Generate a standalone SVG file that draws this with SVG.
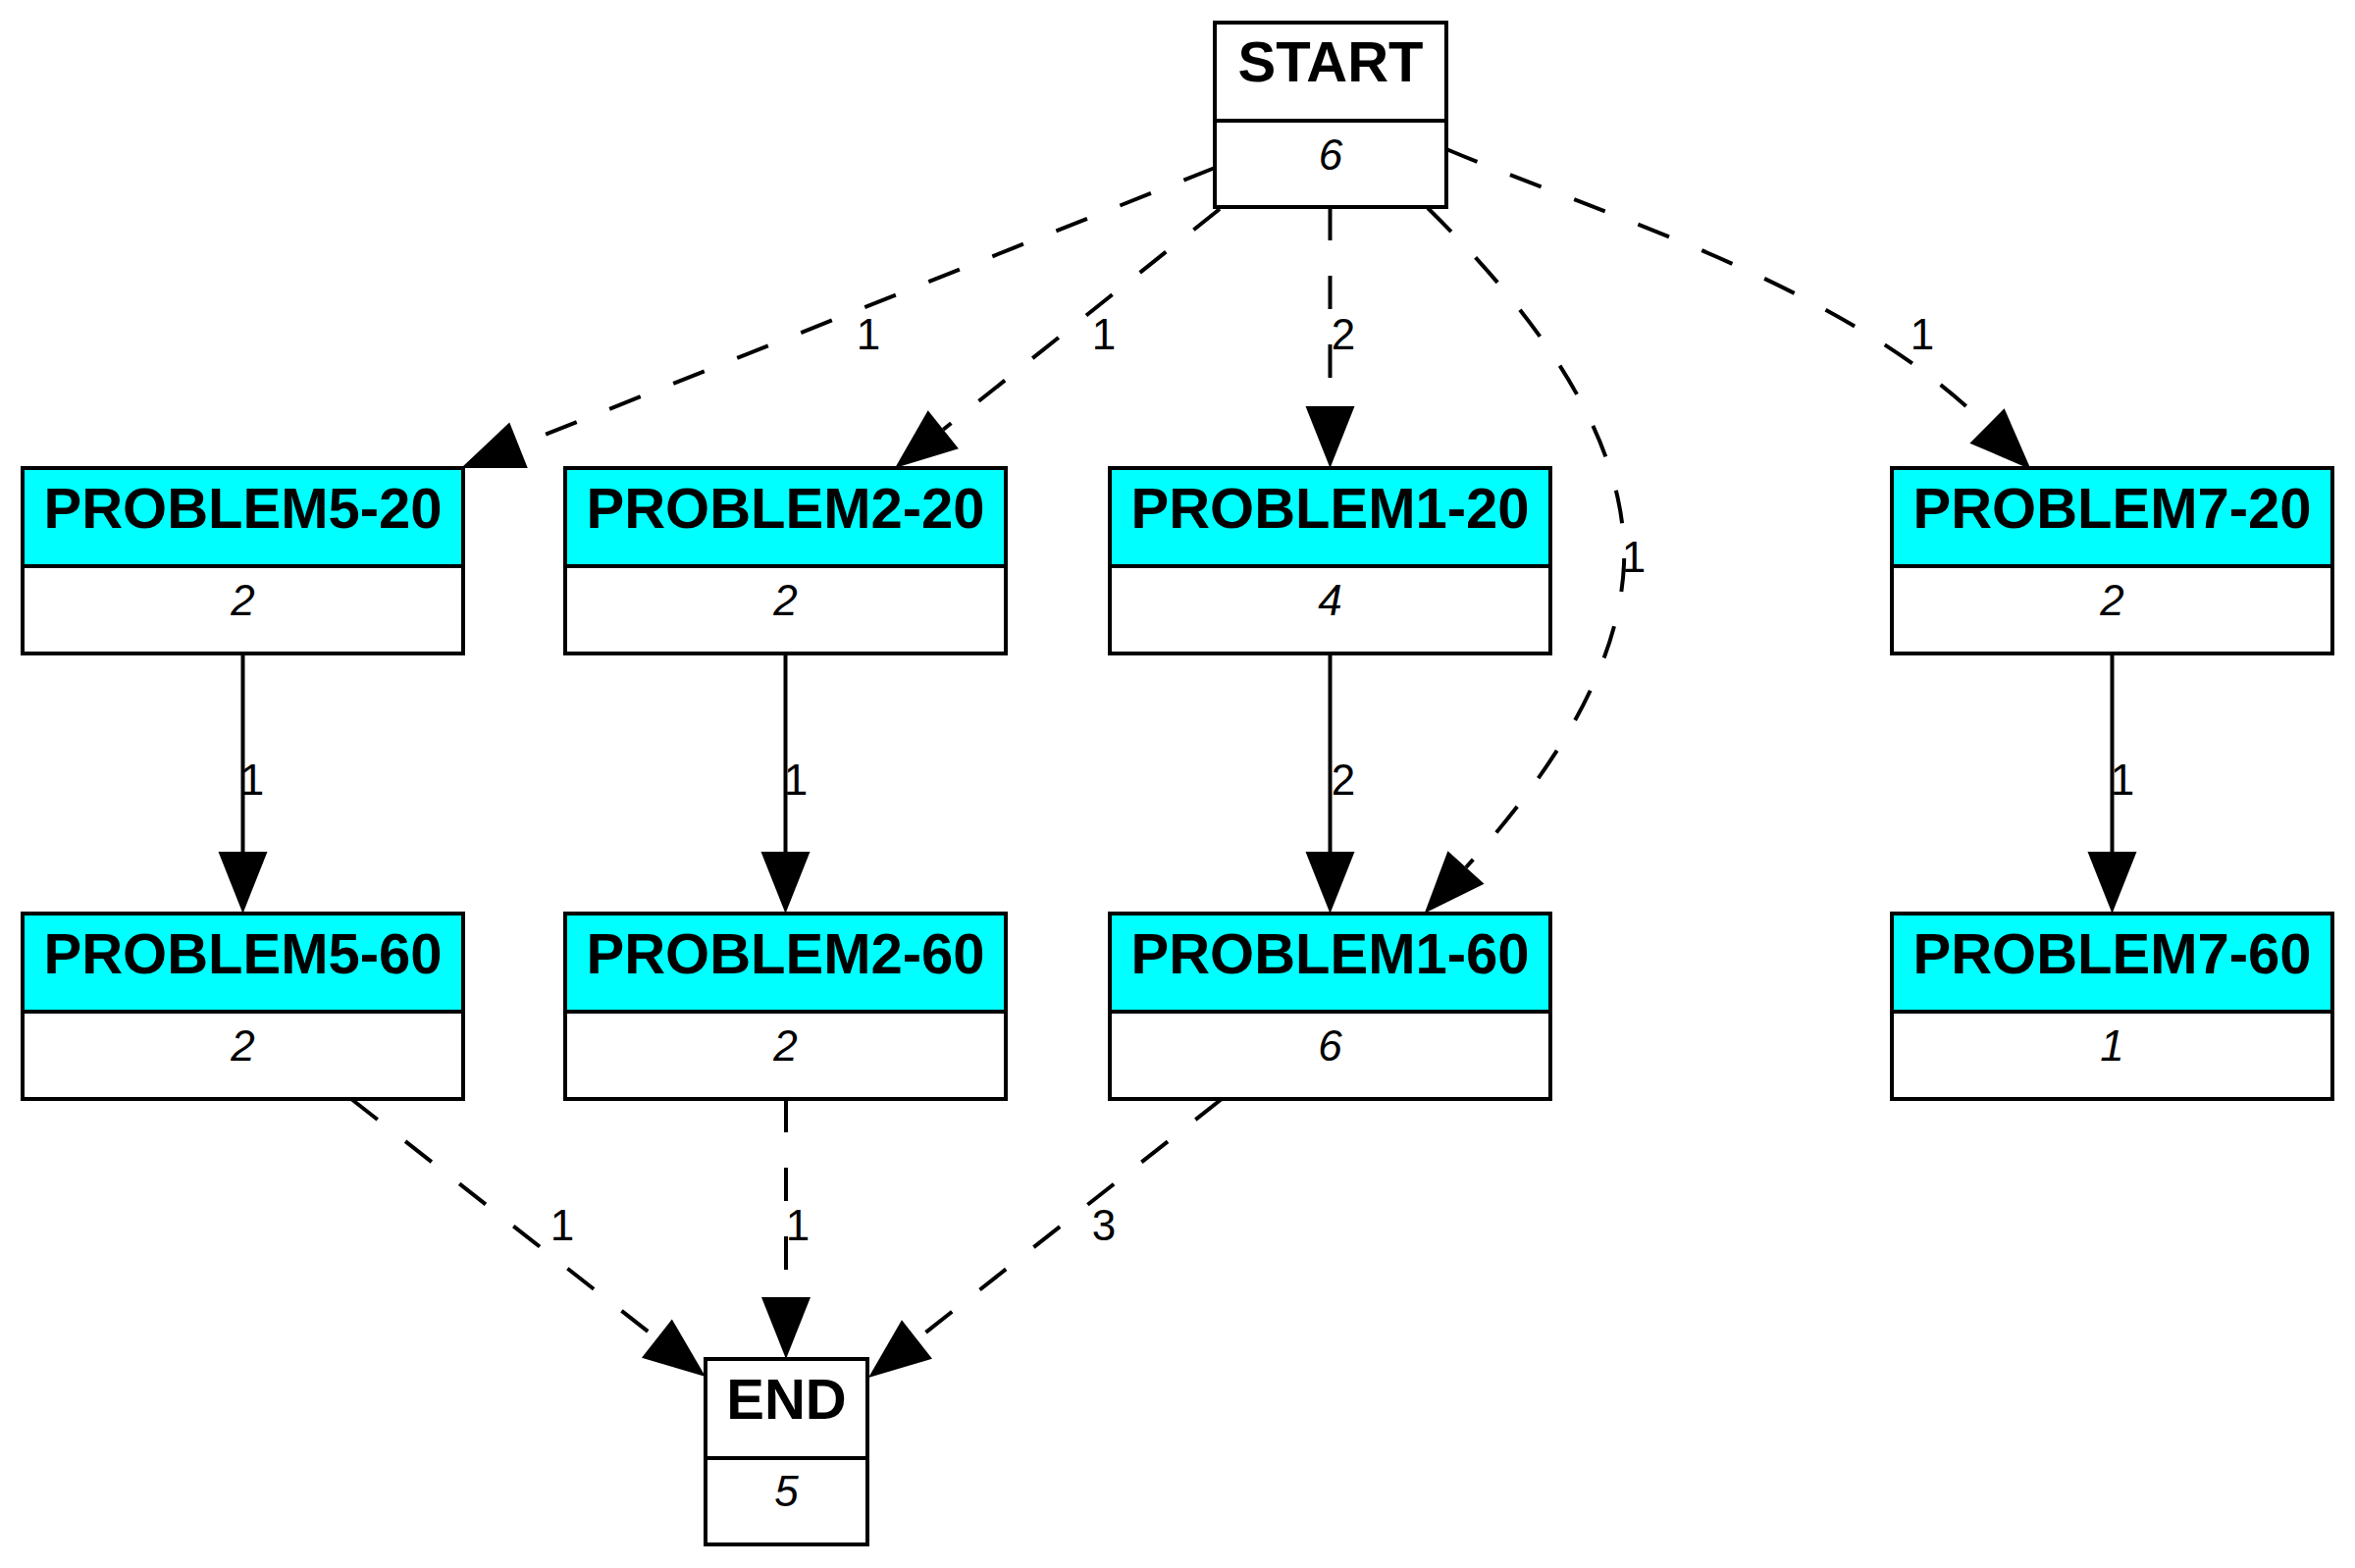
<svg xmlns="http://www.w3.org/2000/svg" width="2400" height="1598" viewBox="0 0 2400 1598">
<style>
.box{fill:#ffffff;stroke:#000;stroke-width:4}
.hdr{fill:#00ffff;stroke:#000;stroke-width:4}
.hdrw{fill:#ffffff;stroke:#000;stroke-width:4}
.div{stroke:#000;stroke-width:4}
.t{font-family:"Liberation Sans",Arial,sans-serif;font-size:58px;font-weight:bold;text-anchor:middle;fill:#000}
.n{font-family:"Liberation Sans",Arial,sans-serif;font-size:44px;font-style:italic;text-anchor:middle;fill:#000}
.e{fill:none;stroke:#000;stroke-width:4}
.d{stroke-dasharray:34,36}
.l{font-family:"Liberation Sans",Arial,sans-serif;font-size:44px;text-anchor:middle;fill:#000}
</style>
<defs>
<marker id="arr" markerUnits="userSpaceOnUse" markerWidth="70" markerHeight="60" refX="0" refY="25" orient="auto" overflow="visible">
<path d="M0,0 L63,25 L0,50 Z" fill="#000"/>
</marker>
</defs>
<rect width="2400" height="1598" fill="#fff"/>

<g id="edges">
<path class="e d" d="M1238,171 L528.5,453.7" marker-end="url(#arr)"/>
<text class="l" x="885" y="356">1</text>
<path class="e d" d="M1243,213 L961.3,437.7" marker-end="url(#arr)"/>
<text class="l" x="1125" y="356">1</text>
<path class="e d" d="M1355.5,211 L1355.5,414" marker-end="url(#arr)"/>
<text class="l" x="1369" y="356">2</text>
<path class="e d" d="M1455,212 C1560,315 1660,445 1655,575 C1650,690 1570,800 1494,884" marker-end="url(#arr)"/>
<text class="l" x="1665" y="583">1</text>
<path class="e d" d="M1474,152 C1640,222 1880,290 2025,434" marker-end="url(#arr)"/>
<text class="l" x="1959" y="356">1</text>

<path class="e" d="M247.5,666 L247.5,868" marker-end="url(#arr)"/>
<text class="l" x="257" y="810">1</text>
<path class="e" d="M800.5,666 L800.5,868" marker-end="url(#arr)"/>
<text class="l" x="811" y="810">1</text>
<path class="e" d="M1355.5,666 L1355.5,868" marker-end="url(#arr)"/>
<text class="l" x="1369" y="810">2</text>
<path class="e" d="M2152.5,666 L2152.5,868" marker-end="url(#arr)"/>
<text class="l" x="2163" y="810">1</text>

<path class="e d" d="M358,1120 L669.4,1364.1" marker-end="url(#arr)"/>
<text class="l" x="573" y="1264">1</text>
<path class="e d" d="M801,1120 L801,1322" marker-end="url(#arr)"/>
<text class="l" x="813" y="1264">1</text>
<path class="e d" d="M1245,1120 L934.5,1365" marker-end="url(#arr)"/>
<text class="l" x="1125" y="1264">3</text>
</g>

<g id="START">
<rect class="hdrw" x="1238" y="23" width="236" height="188"/>
<line class="div" x1="1238" y1="123" x2="1474" y2="123"/>
<text class="t" x="1356" y="83">START</text>
<text class="n" x="1356" y="173">6</text>
</g>

<g id="PROBLEM5-20">
<rect class="box" x="23" y="477" width="449" height="189"/>
<rect class="hdr" x="23" y="477" width="449" height="100"/>
<text class="t" x="247.5" y="538">PROBLEM5-20</text>
<text class="n" x="247.5" y="627">2</text>
</g>

<g id="PROBLEM2-20">
<rect class="box" x="576" y="477" width="449" height="189"/>
<rect class="hdr" x="576" y="477" width="449" height="100"/>
<text class="t" x="800.5" y="538">PROBLEM2-20</text>
<text class="n" x="800.5" y="627">2</text>
</g>

<g id="PROBLEM1-20">
<rect class="box" x="1131" y="477" width="449" height="189"/>
<rect class="hdr" x="1131" y="477" width="449" height="100"/>
<text class="t" x="1355.5" y="538">PROBLEM1-20</text>
<text class="n" x="1355.5" y="627">4</text>
</g>

<g id="PROBLEM7-20">
<rect class="box" x="1928" y="477" width="449" height="189"/>
<rect class="hdr" x="1928" y="477" width="449" height="100"/>
<text class="t" x="2152.5" y="538">PROBLEM7-20</text>
<text class="n" x="2152.5" y="627">2</text>
</g>

<g id="PROBLEM5-60">
<rect class="box" x="23" y="931" width="449" height="189"/>
<rect class="hdr" x="23" y="931" width="449" height="100"/>
<text class="t" x="247.5" y="992">PROBLEM5-60</text>
<text class="n" x="247.5" y="1081">2</text>
</g>

<g id="PROBLEM2-60">
<rect class="box" x="576" y="931" width="449" height="189"/>
<rect class="hdr" x="576" y="931" width="449" height="100"/>
<text class="t" x="800.5" y="992">PROBLEM2-60</text>
<text class="n" x="800.5" y="1081">2</text>
</g>

<g id="PROBLEM1-60">
<rect class="box" x="1131" y="931" width="449" height="189"/>
<rect class="hdr" x="1131" y="931" width="449" height="100"/>
<text class="t" x="1355.5" y="992">PROBLEM1-60</text>
<text class="n" x="1355.5" y="1081">6</text>
</g>

<g id="PROBLEM7-60">
<rect class="box" x="1928" y="931" width="449" height="189"/>
<rect class="hdr" x="1928" y="931" width="449" height="100"/>
<text class="t" x="2152.5" y="992">PROBLEM7-60</text>
<text class="n" x="2152.5" y="1081">1</text>
</g>

<g id="END">
<rect class="hdrw" x="719" y="1385" width="165" height="189"/>
<line class="div" x1="719" y1="1486" x2="884" y2="1486"/>
<text class="t" x="801.5" y="1446">END</text>
<text class="n" x="801.5" y="1535">5</text>
</g>
</svg>
